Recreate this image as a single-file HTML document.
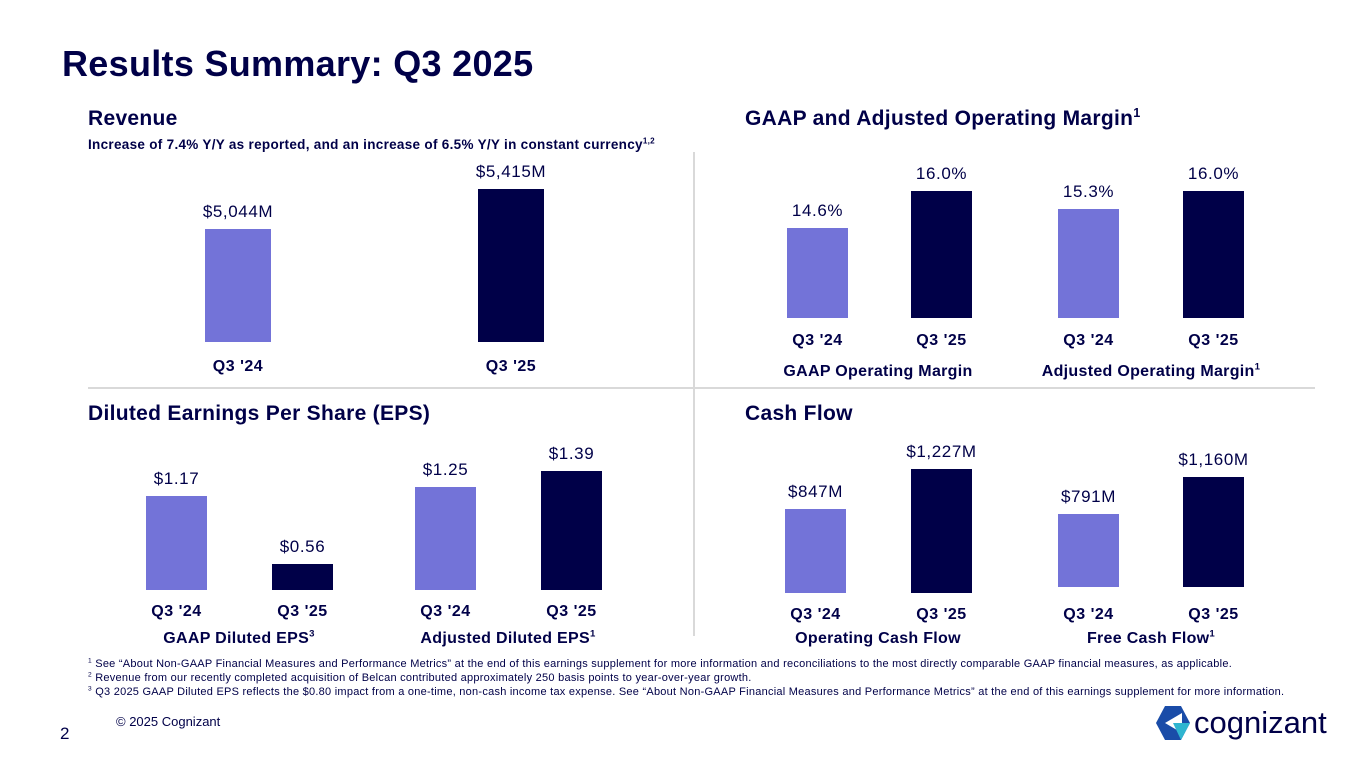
<!DOCTYPE html>
<html><head><meta charset="utf-8">
<style>
body{margin:0;width:1365px;height:768px;background:#fff;position:relative;overflow:hidden;font-family:"Liberation Sans",sans-serif;color:#000048}
.a{position:absolute;white-space:nowrap}
.t{left:62px;top:43px;font-size:36px;font-weight:bold;letter-spacing:0.3px}
.h{font-size:21px;font-weight:bold;letter-spacing:0.3px}
.sub{font-size:13.5px;font-weight:bold;letter-spacing:0.3px}
.v{font-size:17px;text-align:center;width:140px;letter-spacing:0.6px}
.x{font-size:16px;font-weight:bold;text-align:center;width:120px;letter-spacing:0.5px}
.g{font-size:16px;font-weight:bold;text-align:center;width:260px;letter-spacing:0.3px}
.fn{font-size:11px;left:88px;color:#000048;letter-spacing:0.25px}
sup{font-size:0.6em;line-height:0}
</style></head><body>
<div class="a t">Results Summary: Q3 2025</div>
<div class="a h" style="left:88px;top:107px">Revenue</div>
<div class="a sub" style="left:88px;top:137px">Increase of 7.4% Y/Y as reported, and an increase of 6.5% Y/Y in constant currency<sup>1,2</sup></div>
<div class="a h" style="left:745px;top:107px">GAAP and Adjusted Operating Margin<sup>1</sup></div>
<div class="a h" style="left:88px;top:402px">Diluted Earnings Per Share (EPS)</div>
<div class="a h" style="left:745px;top:402px">Cash Flow</div>
<div class="a" style="left:693px;top:152px;width:2px;height:484px;background:#d9d9d9"></div>
<div class="a" style="left:88px;top:387px;width:1227px;height:2px;background:#d9d9d9"></div>
<div id="charts"></div>
<div class="a fn" style="top:658px"><sup>1</sup> See “About Non-GAAP Financial Measures and Performance Metrics” at the end of this earnings supplement for more information and reconciliations to the most directly comparable GAAP financial measures, as applicable.</div>
<div class="a fn" style="top:672px"><sup>2</sup> Revenue from our recently completed acquisition of Belcan contributed approximately 250 basis points to year-over-year growth.</div>
<div class="a fn" style="top:686px"><sup>3</sup> Q3 2025 GAAP Diluted EPS reflects the $0.80 impact from a one-time, non-cash income tax expense. See “About Non-GAAP Financial Measures and Performance Metrics” at the end of this earnings supplement for more information.</div>
<div class="a" style="left:116px;top:714px;font-size:13px">© 2025 Cognizant</div>
<div class="a" style="left:60px;top:724px;font-size:17px">2</div>
<div class="a" style="left:1155px;top:703px">
<svg width="180" height="40" viewBox="0 0 180 40"><polygon points="10,3 26,3 35,20 26,37 10,37 1,20" fill="#1a4ca8"/><polygon points="10,20 27,10 27,30" fill="#fff"/><polygon points="18,20 35,20 26,37" fill="#2fb5d0"/><text x="39" y="30" font-family="Liberation Sans, sans-serif" font-size="31" fill="#000048">cognizant</text></svg></div>
<script>
const revCats=["Q3 '24","Q3 '25"];
const revVals=[5044,5415];
const gaapCats=["Q3 '24","Q3 '25"];
const gaapVals=[14.6,16.0];
const adjCats=["Q3 '24","Q3 '25"];
const adjVals=[15.3,16.0];
const epsGaapVals=[1.17,0.56];
const epsAdjVals=[1.25,1.39];
const ocfVals=[847,1227];
const fcfVals=[791,1160];
const colors=["#7373D8","#000048"];
const root=document.getElementById('charts');
function el(cls,style,txt){const d=document.createElement('div');d.className='a '+cls;d.style.cssText=style;if(txt!==undefined)d.innerHTML=txt;root.appendChild(d);return d;}
function scale(min,k){return v=>(v-min)*k;}
function group(name,cats,vals,labels,xs,w,base,sc,xlabY){
  vals.forEach((v,i)=>{
    const h=sc(v);
    const b=el('', `left:${xs[i]}px;top:${base-h}px;width:${w}px;height:${h}px;background:${colors[i]}`);
    
    
    const l=el('v',`left:${xs[i]+w/2-70}px;top:${base-h-27}px`,labels[i]);
    
    
    const x=el('x',`left:${xs[i]+w/2-60}px;top:${xlabY}px`,cats[i]);
    
    
  });
}
const fmtM=v=>'$'+v.toLocaleString('en-US')+'M';
const fmtP=v=>v.toFixed(1)+'%';
const fmtD=v=>'$'+v.toFixed(2);
group('revenue',revCats,revVals,revVals.map(fmtM),[205,478],66,342,scale(3996,0.1078),358);
const ms=scale(11.19,26.4);
group('gaap-margin',gaapCats,gaapVals,gaapVals.map(fmtP),[787,911],61,318,ms,332);
group('adj-margin',adjCats,adjVals,adjVals.map(fmtP),[1058,1183],61,318,ms,332);
const es=scale(0.328,112);
group('gaap-eps',gaapCats,epsGaapVals,epsGaapVals.map(fmtD),[146,272],61,590,es,603);
group('adj-eps',adjCats,epsAdjVals,epsAdjVals.map(fmtD),[415,541],61,590,es,603);
group('ocf',gaapCats,ocfVals,ocfVals.map(fmtM),[785,911],61,593,scale(60,0.1065),606);
group('fcf',gaapCats,fcfVals,fcfVals.map(fmtM),[1058,1183],61,587,scale(60,0.1),606);
const groups=[["GAAP Operating Margin",878,363],["Adjusted Operating Margin<sup>1</sup>",1151,363],["GAAP Diluted EPS<sup>3</sup>",239,630],["Adjusted Diluted EPS<sup>1</sup>",508,630],["Operating Cash Flow",878,630],["Free Cash Flow<sup>1</sup>",1151,630]];
groups.forEach((g,i)=>{const d=el('g',`left:${g[1]-130}px;top:${g[2]}px`,g[0]);

});
</script>
</body></html>
